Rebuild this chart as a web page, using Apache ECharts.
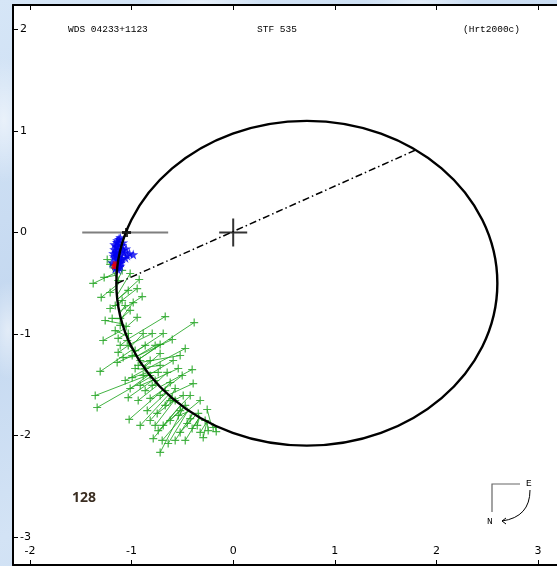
<!DOCTYPE html>
<html>
<head>
<meta charset="utf-8">
<script src="https://cdn.jsdelivr.net/npm/echarts@6/dist/echarts.min.js"></script>
<style>
  html, body { margin: 0; padding: 0; width: 557px; height: 566px; overflow: hidden; }
  body {
    background-color: #cddff3;
    background-image:
      radial-gradient(ellipse 40px 90px at 4px 120px, rgba(255,255,255,0.55), rgba(255,255,255,0) 70%),
      radial-gradient(ellipse 30px 70px at 8px 330px, rgba(255,255,255,0.5), rgba(255,255,255,0) 70%),
      radial-gradient(ellipse 90px 10px at 200px 2px, rgba(255,255,255,0.5), rgba(255,255,255,0) 70%),
      radial-gradient(ellipse 80px 10px at 420px 2px, rgba(255,255,255,0.45), rgba(255,255,255,0) 70%),
      linear-gradient(160deg, #d6e6f7 0%, #c4d8f0 40%, #d3e3f5 70%, #c7dbf1 100%);
  }
  #chart { width: 557px; height: 566px; }
</style>
</head>
<body>
<div id="chart"></div>
<script>
// Axis ticks (arcseconds)
const xTicks = [-2, -1, 0, 1, 2, 3];
const yTicks = [-3, -2, -1, 0, 1, 2];

// Apparent orbit: ellipse centre and semi-axes (arcsec)
const orbitCenter = [0.725, -0.50];
const orbitSemiAxes = [1.875, 1.60];

// Line of nodes through the primary
const nodeLineX = [-1.14, 1.79];
const nodeLineY = [-0.50, 0.81];

// Micrometer measures (O) and their computed positions on the orbit (C)
const obsX = [-1.240,-1.378,-1.211,-1.299,-1.211,-1.014,-0.925,-0.945,-0.896,-1.211,
              -1.063,-0.984,-0.945,-0.669,-0.384,-0.797,-1.280,-1.132,-1.093,-1.132,
              -1.033,-0.886,-0.689,-0.719,-0.600,-1.132,-1.142,-1.083,-1.309,-0.994,
              -0.817,-0.591,-0.719,-0.650,-0.404,-0.394,-0.620,-0.571,-0.915,-1.014,
              -1.033,-0.846,-1.339,-1.024,-0.748,-0.620,-0.738,-0.640,-0.719,-0.541,
              -0.522,-0.453,-0.325,-0.256,-0.167,-0.344,-0.935,-1.112,-1.053,-1.161,
              -1.033,-0.965,-0.915,-0.866,-0.817,-0.768,-0.866,-0.719,-0.669,-0.571,
              -0.472,-0.423,-0.817,-0.689,-0.571,-0.699,-0.404,-0.276,-0.197,-0.866,
              -1.260,-1.358,-1.014,-1.093,-0.472,-0.502,-0.915,-0.787,-0.295,-1.191,
              -1.112,-1.043,-0.994,-0.935,-0.886,-0.797,-0.738,-0.669,-0.600,-0.522,
              -0.423,-0.354,-0.246,-1.112,-0.965,-1.063,-0.817,-0.620,-0.492,-0.719,
              -0.541,-0.325,-1.161,-1.033,-1.270,-0.768,-0.522,-0.768,-0.472];
const obsY = [-0.266,-0.502,-0.315,-0.640,-0.591,-0.404,-0.463,-0.552,-0.631,-0.749,
              -0.719,-0.690,-0.837,-0.828,-0.887,-0.995,-1.064,-0.473,-0.374,-1.044,
              -0.995,-0.995,-0.995,-1.103,-1.054,-1.182,-1.281,-1.232,-1.369,-1.429,
              -1.261,-1.261,-1.192,-1.379,-1.350,-1.488,-1.478,-1.537,-1.507,-1.537,
              -1.626,-1.754,-1.724,-1.842,-1.783,-1.655,-1.951,-2.079,-2.167,-1.803,
              -1.970,-1.882,-1.970,-1.744,-1.961,-1.783,-1.655,-0.847,-0.926,-0.966,
              -1.113,-1.163,-1.261,-1.340,-1.409,-1.458,-1.557,-1.606,-1.704,-1.655,
              -1.704,-1.606,-1.852,-1.901,-2.049,-2.049,-1.931,-1.852,-1.921,-1.113,
              -0.867,-1.606,-0.768,-0.670,-1.143,-1.409,-1.901,-2.030,-2.020,-0.847,
              -0.916,-1.064,-1.212,-1.310,-1.409,-1.507,-1.379,-1.557,-1.635,-1.754,
              -1.833,-1.901,-1.951,-1.113,-1.340,-1.458,-1.635,-1.852,-1.606,-1.310,
              -1.340,-1.655,-0.719,-0.571,-0.443,-1.113,-1.212,-1.901,-2.049];
const fitX = [-1.146,-1.145,-1.148,-1.150,-1.149,-1.144,-1.140,-1.135,-1.121,-1.135,
              -1.117,-1.104,-1.073,-1.035,-0.930,-1.013,-1.073,-1.149,-1.148,-1.056,
              -1.035,-1.003,-0.972,-0.930,-0.949,-1.013,-0.961,-0.949,-0.987,-0.840,
              -0.884,-0.825,-0.877,-0.757,-0.719,-0.637,-0.688,-0.613,-0.782,-0.825,
              -0.782,-0.657,-0.808,-0.688,-0.576,-0.539,-0.486,-0.442,-0.486,-0.427,
              -0.368,-0.368,-0.257,-0.220,-0.183,-0.331,-0.739,-1.073,-1.090,-1.047,
              -0.987,-1.013,-0.912,-0.840,-0.808,-0.757,-0.757,-0.657,-0.613,-0.515,
              -0.427,-0.515,-0.613,-0.515,-0.398,-0.442,-0.331,-0.257,-0.220,-0.972,
              -1.090,-0.825,-1.104,-1.131,-0.862,-0.688,-0.637,-0.515,-0.257,-1.104,
              -1.090,-1.035,-0.961,-0.899,-0.825,-0.739,-0.840,-0.688,-0.613,-0.515,
              -0.398,-0.331,-0.257,-1.035,-0.862,-0.862,-0.688,-0.486,-0.576,-0.877,
              -0.782,-0.442,-1.131,-1.140,-1.146,-0.949,-0.912,-0.576,-0.331];
const fitY = [-0.40,-0.39,-0.45,-0.52,-0.55,-0.62,-0.66,-0.70,-0.78,-0.70,
              -0.80,-0.85,-0.95,-1.05,-1.25,-1.10,-0.95,-0.55,-0.50,-1.00,
              -1.05,-1.12,-1.18,-1.25,-1.22,-1.10,-1.20,-1.22,-1.15,-1.38,
              -1.32,-1.40,-1.33,-1.48,-1.52,-1.60,-1.55,-1.62,-1.45,-1.40,
              -1.45,-1.58,-1.42,-1.55,-1.65,-1.68,-1.72,-1.75,-1.72,-1.76,
              -1.80,-1.80,-1.86,-1.88,-1.90,-1.82,-1.50,-0.95,-0.90,-1.02,
              -1.15,-1.10,-1.28,-1.38,-1.42,-1.48,-1.48,-1.58,-1.62,-1.70,
              -1.76,-1.70,-1.62,-1.70,-1.78,-1.75,-1.82,-1.86,-1.88,-1.18,
              -0.90,-1.40,-0.85,-0.72,-1.35,-1.55,-1.60,-1.70,-1.86,-0.85,
              -0.90,-1.05,-1.20,-1.30,-1.40,-1.50,-1.38,-1.55,-1.62,-1.70,
              -1.78,-1.82,-1.86,-1.05,-1.35,-1.35,-1.55,-1.72,-1.65,-1.33,
              -1.45,-1.75,-0.72,-0.66,-0.42,-1.22,-1.28,-1.65,-1.82];

// Speckle / interferometric measures
const speckleX = [-1.142,-1.122,-1.152,-1.171,-1.132,-1.102,-1.181,-1.152,-1.112,-1.073,
                  -1.161,-1.132,-1.093,-1.191,-1.142,-1.102,-1.161,-1.122,-1.043,-0.984,
                  -1.053,-1.171,-1.112,-1.083,-1.130,-1.150,-1.120,-1.160,-1.140,-1.105,
                  -1.125,-1.175,-1.095,-1.145,-1.110,-1.060,-1.020,-1.135,-1.155,-1.085];
const speckleY = [-0.079,-0.108,-0.138,-0.167,-0.177,-0.158,-0.207,-0.227,-0.217,-0.197,
                  -0.256,-0.276,-0.256,-0.296,-0.315,-0.296,-0.355,-0.345,-0.227,-0.217,
                  -0.158,-0.118,-0.049,-0.099,-0.240,-0.190,-0.300,-0.320,-0.140,-0.270,
                  -0.065,-0.235,-0.125,-0.095,-0.330,-0.250,-0.205,-0.365,-0.200,-0.175];

// Other measures
const otherX = [-1.171, -1.160];
const otherY = [-0.335, -0.310];

// Marked point on the orbit and its bar
const markX = [-1.05];
const markY = [0.00];
const barX = [-1.486, -0.640];
const barY = [0.00, 0.00];

// Primary star
const primaryX = [0];
const primaryY = [0];

// Plot frame in data units (101.6 px per arcsec, frame runs off the right edge)
const GRID_W = 544;
const GRID_H = 560;
const X_MIN = -2 - 17 / 101.6;
const X_MAX = X_MIN + GRID_W / 101.6;
const Y_MAX = 2 + 24.5 / 101.5;
const Y_MIN = Y_MAX - GRID_H / 101.5;

const zip = (a, b) => a.map((v, i) => [v, b[i]]);

const plusGreen = 'path://M0,3.4H8V4.6H0ZM3.4,0H4.6V8H3.4Z';
const plusBlack = 'path://M0,3H9V6H0ZM3,0H6V9H3Z';
const plusPrimary = 'path://M0,13H28V15H0ZM13,0H15V28H13Z';
const star = 'path://M50,0L61,35L98,35L68,57L79,91L50,70L21,91L32,57L2,35L39,35Z';

const labelFont = { color: '#000', fontSize: 11, fontFamily: 'DejaVu Sans' };
const monoFont = 'Liberation Mono';

const chart = echarts.init(document.getElementById('chart'), null, { renderer: 'canvas' });

chart.setOption({
  animation: false,
  backgroundColor: 'transparent',
  grid: {
    left: 13, top: 5, width: GRID_W, height: GRID_H,
    show: true, backgroundColor: '#ffffff', borderWidth: 0
  },
  xAxis: [{
    type: 'value', min: X_MIN, max: X_MAX, position: 'bottom',
    axisLine: { show: true, onZero: false, lineStyle: { color: '#000', width: 2 } },
    axisTick: { show: true, inside: true, length: 5, customValues: xTicks, lineStyle: { color: '#000', width: 1 } },
    axisLabel: Object.assign({ show: true, inside: true, margin: 8, customValues: xTicks }, labelFont),
    splitLine: { show: false }
  }, {
    type: 'value', min: X_MIN, max: X_MAX, position: 'top',
    axisLine: { show: true, onZero: false, lineStyle: { color: '#000', width: 2 } },
    axisTick: { show: true, inside: true, length: 5, customValues: xTicks, lineStyle: { color: '#000', width: 1 } },
    axisLabel: { show: false },
    splitLine: { show: false }
  }],
  yAxis: [{
    type: 'value', min: Y_MIN, max: Y_MAX, position: 'left',
    axisLine: { show: true, onZero: false, lineStyle: { color: '#000', width: 2 } },
    axisTick: { show: true, inside: true, length: 5, customValues: yTicks, lineStyle: { color: '#000', width: 1 } },
    axisLabel: Object.assign({ show: true, inside: true, margin: 7, customValues: yTicks }, labelFont),
    splitLine: { show: false }
  }],
  series: [
    {
      // O-C residual lines
      type: 'lines', coordinateSystem: 'cartesian2d', z: 2,
      lineStyle: { color: '#22a622', width: 1, opacity: 0.85 },
      data: obsX.map((x, i) => ({ coords: [[x, obsY[i]], [fitX[i], fitY[i]]] }))
    },
    {
      type: 'scatter', z: 3, symbol: plusGreen, symbolSize: 8,
      itemStyle: { color: '#19a019' },
      data: zip(obsX, obsY)
    },
    {
      type: 'scatter', z: 4, symbol: star, symbolSize: 10,
      itemStyle: { color: '#0000ee' },
      data: zip(speckleX, speckleY)
    },
    {
      type: 'scatter', z: 4, symbol: 'rect', symbolSize: 5,
      itemStyle: { color: '#ee0000' },
      data: zip(otherX, otherY)
    },
    {
      // apparent orbit
      type: 'custom', z: 5, clip: false,
      data: [orbitCenter],
      renderItem: function (params, api) {
        const c = api.coord([api.value(0), api.value(1)]);
        const s = api.size(orbitSemiAxes);
        return {
          type: 'ellipse',
          shape: { cx: c[0], cy: c[1], rx: s[0], ry: s[1] },
          style: { fill: null, stroke: '#000', lineWidth: 2.4 }
        };
      }
    },
    {
      type: 'line', z: 5, symbol: 'none',
      lineStyle: { color: '#000', width: 1.5, type: [7, 3, 1.5, 3] },
      data: zip(nodeLineX, nodeLineY)
    },
    {
      type: 'line', z: 6, symbol: 'none',
      lineStyle: { color: '#7f7f7f', width: 2 },
      data: zip(barX, barY)
    },
    {
      type: 'scatter', z: 7, symbol: plusBlack, symbolSize: 9,
      itemStyle: { color: '#000' },
      data: zip(markX, markY)
    },
    {
      type: 'scatter', z: 7, symbol: plusPrimary, symbolSize: 28,
      itemStyle: { color: '#000' },
      data: zip(primaryX, primaryY)
    }
  ],
  graphic: [
    { type: 'text', left: 68, top: 24, z: 10, style: { text: 'WDS 04233+1123', font: '9.5px ' + monoFont, fill: '#000' } },
    { type: 'text', left: 257, top: 24, z: 10, style: { text: 'STF 535', font: '9.5px ' + monoFont, fill: '#000' } },
    { type: 'text', left: 463, top: 24, z: 10, style: { text: '(Hrt2000c)', font: '9.5px ' + monoFont, fill: '#000' } },
    { type: 'text', left: 72, top: 491, z: 10, style: { text: '128', font: 'bold 14px "Open Sans"', fill: '#3b2e22' } },
    { type: 'polyline', z: 10, shape: { points: [[520, 484], [492, 484], [492, 512]] }, style: { stroke: '#666', lineWidth: 1.2, fill: null } },
    { type: 'text', left: 526, top: 478, z: 10, style: { text: 'E', font: '9.5px ' + monoFont, fill: '#000' } },
    { type: 'text', left: 487, top: 516, z: 10, style: { text: 'N', font: '9.5px ' + monoFont, fill: '#000' } },
    { type: 'bezierCurve', z: 10, shape: { x1: 530, y1: 490, x2: 502, y2: 521, cpx1: 530, cpy1: 517 }, style: { stroke: '#000', lineWidth: 1, fill: null } },
    { type: 'polyline', z: 10, shape: { points: [[506, 518], [502, 521], [506, 524]] }, style: { stroke: '#000', lineWidth: 1, fill: null } }
  ]
});
</script>
</body>
</html>
